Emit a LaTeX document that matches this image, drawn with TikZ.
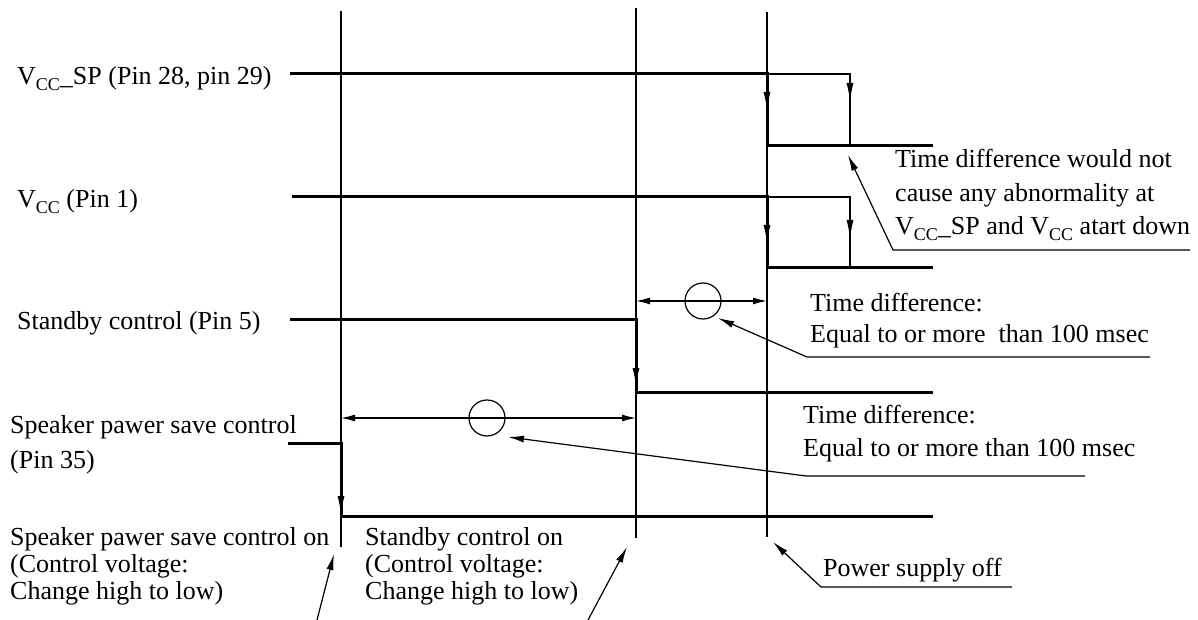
\documentclass[tikz,border=0pt]{standalone}
\usepackage{fontspec}
\setmainfont{Liberation Serif}
\usetikzlibrary{arrows.meta}
\newcommand{\sbs}[1]{\raisebox{-6bp}{\fontsize{18bp}{18bp}\selectfont #1}}
\begin{document}
\begin{tikzpicture}[x=1bp,y=-1bp,
  thinline/.style={line width=1.2bp},
  sigline/.style={line width=3bp},
  lbl/.style={anchor=base west, inner sep=0pt, font=\fontsize{26bp}{30bp}\selectfont},
  midtip/.style={line width=1.2bp,-{Latex[length=18bp,width=7bp]}},
  dtip/.style={line width=1.2bp,{Latex[length=14bp,width=7bp]}-{Latex[length=14bp,width=7bp]}},
  ltip/.style={line width=1.2bp,-{Latex[length=16bp,width=7bp]}}
]
\useasboundingbox (0,0) rectangle (1198,620);
% time markers
\coordinate (a1) at (341,11);  \coordinate (b1) at (341,547);
\coordinate (a2) at (636,8);   \coordinate (b2) at (636,538);
\coordinate (a3) at (767,12);  \coordinate (b3) at (767,537);
\draw[thinline] (a1) -- (b1);
\draw[thinline] (a2) -- (b2);
\draw[thinline] (a3) -- (b3);
% signals
\draw[sigline] (290,74) -- (767,74) -- (767,146) -- (933,146);
\draw[sigline] (292,197) -- (767,197) -- (767,268) -- (933,268);
\draw[sigline] (290,319) -- (636,319) -- (636,392) -- (933,392);
\draw[sigline] (288,443) -- (341,443) -- (341,516) -- (933,516);
% falling-edge arrows
\draw[midtip] (767,80) -- (767,110);
\draw[midtip] (767,203) -- (767,243);
\draw[midtip] (636,330) -- (636,386);
\draw[midtip] (341,460) -- (341,514);
% tolerance marks
\draw[thinline] (767,74) -- (850,74) -- (850,146);
\draw[midtip] (850,74) -- (850,101);
\draw[thinline] (767,197) -- (850,197) -- (850,268);
\draw[midtip] (850,197) -- (850,238);
% time differences
\draw[dtip] (636,301) -- (767,301);
\draw[thinline] (703,301) circle[radius=18];
\draw[dtip] (341,418) -- (636,418);
\draw[thinline] (487,418) circle[radius=18];
% leaders
\draw[ltip] (1190,250) -- (893,250) -- (848,155);
\draw[ltip] (1150,357) -- (807,357) -- (718,318);
\draw[ltip] (1085,476) -- (806,476) -- (508,437);
\draw[ltip] (1012,587) -- (821,587) -- (773,542);
\draw[ltip] (317,620) -- (334,554);
\draw[ltip] (588,620) -- (627,547);
% labels
\node[lbl] (l1) at (17,85) {V\sbs{CC}\_SP (Pin 28, pin 29)};
\node[lbl] (l2) at (17,208) {V\sbs{CC} (Pin 1)};
\node[lbl] (l3) at (17,330) {Standby control (Pin 5)};
\node[lbl] (l4a) at (10,433) {Speaker pawer save control};
\node[lbl] (l4b) at (10,468) {(Pin 35)};
\node[lbl] (r1a) at (895,168) {Time difference would not};
\node[lbl] (r1b) at (895,202) {cause any abnormality at};
\node[lbl] (r1c) at (895,235) {V\sbs{CC}\_SP and V\sbs{CC} atart down};
\node[lbl] (r2a) at (810,312) {Time difference:};
\node[lbl] (r2b) at (810,343) {Equal to or more\ \ than 100 msec};
\node[lbl] (r3a) at (803,423) {Time difference:};
\node[lbl] (r3b) at (803,456) {Equal to or more than 100 msec};
\node[lbl] (p1) at (823,576) {Power supply off};
\node[lbl] (s1) at (10,545) {Speaker pawer save control on};
\node[lbl] (s2) at (10,572) {(Control voltage:};
\node[lbl] (s3) at (10,599) {Change high to low)};
\node[lbl] (t1) at (365,545) {Standby control on};
\node[lbl] (t2) at (365,572) {(Control voltage:};
\node[lbl] (t3) at (365,599) {Change high to low)};
\end{tikzpicture}
\end{document}
